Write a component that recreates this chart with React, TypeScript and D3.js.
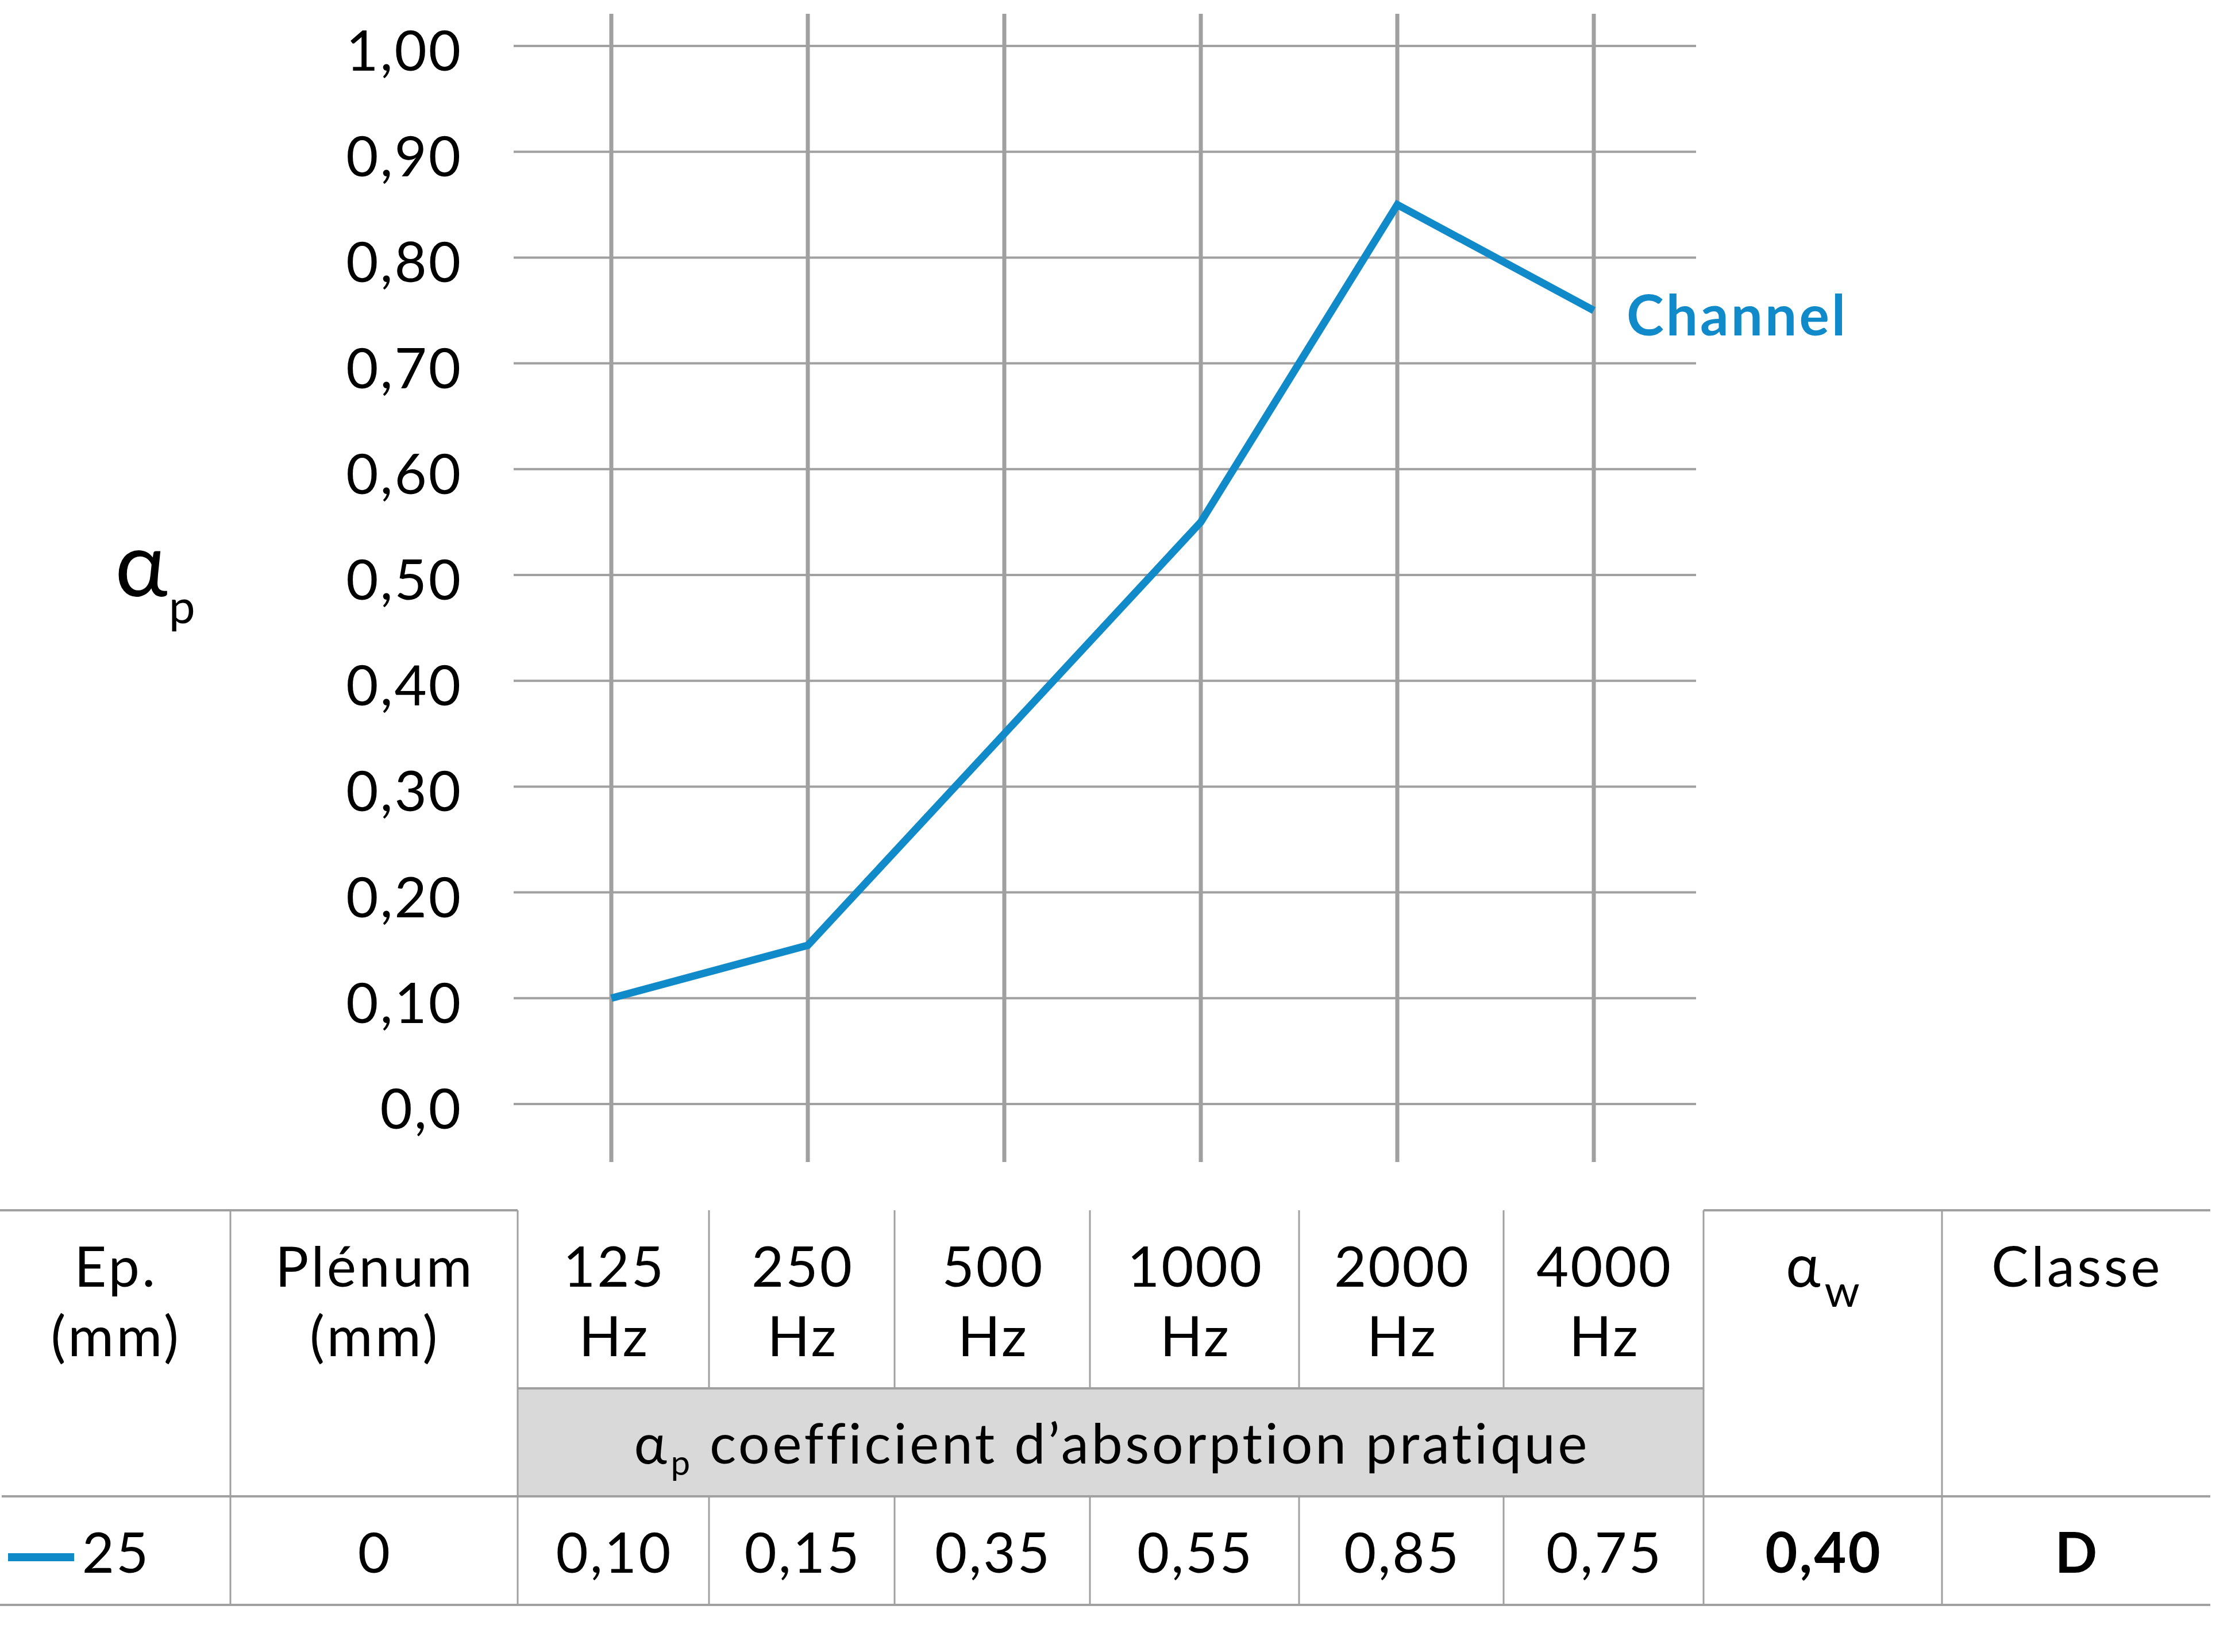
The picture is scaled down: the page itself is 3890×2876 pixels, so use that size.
import React from "react";
import * as d3 from "d3";

// ---------- data ----------
const FREQS = ["125", "250", "500", "1000", "2000", "4000"];
const FREQ_UNIT = "Hz";
const ALPHA_P = [0.1, 0.15, 0.35, 0.55, 0.85, 0.75];
const Y_TICKS = [0, 0.1, 0.2, 0.3, 0.4, 0.5, 0.6, 0.7, 0.8, 0.9, 1.0];
const Y_TICK_LABELS = ["0,0", "0,10", "0,20", "0,30", "0,40", "0,50", "0,60", "0,70", "0,80", "0,90", "1,00"];
const SERIES_NAME = "Channel";
const THICKNESS = "25";
const PLENUM = "0";
const ALPHA_W = "0,40";
const CLASSE = "D";
const HEADERS_LEFT = [["Ep.", "(mm)"], ["Plénum", "(mm)"]];
const BAND_TEXT = " coefficient d’absorption pratique";

// ---------- layout ----------
const W = 3890;
const H = 2876;
const FONT = "Lato, 'Open Sans', 'Noto Sans', sans-serif";
const BLUE = "#108ac8";
const GRID = "#a0a0a0";
const FS = 97;
const LS = 3;
const LS_TEXT = 4.5;

const X0 = 1064, X1 = 2774;
const Y0 = 1922, Y1 = 80;
const GRID_LEFT = 894, GRID_RIGHT = 2952;
const VGRID_TOP = 24, VGRID_BOTTOM = 2023;

// table
const COLS = [0, 401, 901, 1234, 1557, 1897, 2261, 2617, 2965, 3380, 3847];
const T_TOP = 2107, T_BAND = 2417, T_ROW = 2605, T_BOT = 2794;
const HDR1 = 2240, HDR2 = 2361, BAND_BASE = 2548, DATA_BASE = 2738;

const fmt = (v: number) => d3.format(".2f")(v).replace(".", ",");

export default function App() {
  const x = d3.scalePoint<string>().domain(FREQS).range([X0, X1]);
  const y = d3.scaleLinear().domain([0, 1]).range([Y0, Y1]);
  const line = d3
    .line<number>()
    .x((_, i) => x(FREQS[i]) as number)
    .y((d) => y(d));

  const colCenter = (i: number) => (COLS[i] + COLS[i + 1]) / 2 + LS / 2;
  const lastX = x(FREQS[FREQS.length - 1]) as number;
  const lastY = y(ALPHA_P[ALPHA_P.length - 1]);

  return (
    <svg
      width={W}
      height={H}
      viewBox={`0 0 ${W} ${H}`}
      style={{ position: "absolute", left: 0, top: 0, background: "#fff" }}
      fontFamily={FONT}
    >
      <rect x={0} y={0} width={W} height={H} fill="#fff" />

      {/* horizontal gridlines */}
      {Y_TICKS.map((t) => (
        <line key={"h" + t} x1={GRID_LEFT} x2={GRID_RIGHT} y1={y(t)} y2={y(t)} stroke={GRID} strokeWidth={4} />
      ))}
      {/* vertical gridlines */}
      {FREQS.map((f) => (
        <line key={"v" + f} x1={x(f)} x2={x(f)} y1={VGRID_TOP} y2={VGRID_BOTTOM} stroke={GRID} strokeWidth={7} />
      ))}

      {/* y tick labels */}
      {Y_TICKS.map((t, i) => (
        <text key={"yl" + t} x={805} y={y(t) + 43} textAnchor="end" fontSize={FS} letterSpacing={LS} fill="#000">
          {Y_TICK_LABELS[i]}
        </text>
      ))}

      {/* y axis title */}
      <text x={200} y={1038} fontSize={155} fill="#000">
        α
        <tspan fontSize={82} dx={2} dy={47}>p</tspan>
      </text>

      {/* series line */}
      <path d={line(ALPHA_P) || ""} fill="none" stroke={BLUE} strokeWidth={13} strokeLinejoin="miter" />
      <text x={lastX + 57} y={lastY + 43} fontSize={98} fontWeight={700} letterSpacing={4} fill={BLUE}>
        {SERIES_NAME}
      </text>

      {/* ---------- table ---------- */}
      <rect x={COLS[2]} y={T_BAND} width={COLS[8] - COLS[2]} height={T_ROW - T_BAND} fill="#d9d9d9" />
      {/* horizontal table lines */}
      <line x1={COLS[0]} x2={COLS[2]} y1={T_TOP} y2={T_TOP} stroke={GRID} strokeWidth={4} />
      <line x1={COLS[8]} x2={COLS[10]} y1={T_TOP} y2={T_TOP} stroke={GRID} strokeWidth={4} />
      <line x1={COLS[2]} x2={COLS[8]} y1={T_BAND} y2={T_BAND} stroke={GRID} strokeWidth={4} />
      <line x1={3} x2={COLS[10]} y1={T_ROW} y2={T_ROW} stroke={GRID} strokeWidth={4} />
      <line x1={COLS[0]} x2={COLS[10]} y1={T_BOT} y2={T_BOT} stroke={GRID} strokeWidth={4} />
      {/* vertical table lines */}
      {[1, 2, 8, 9].map((i) => (
        <line key={"tv" + i} x1={COLS[i]} x2={COLS[i]} y1={T_TOP} y2={T_BOT} stroke={GRID} strokeWidth={3} />
      ))}
      {[3, 4, 5, 6, 7].map((i) => (
        <g key={"tf" + i}>
          <line x1={COLS[i]} x2={COLS[i]} y1={T_TOP} y2={T_BAND} stroke={GRID} strokeWidth={3} />
          <line x1={COLS[i]} x2={COLS[i]} y1={T_ROW} y2={T_BOT} stroke={GRID} strokeWidth={3} />
        </g>
      ))}

      <g fontSize={FS} letterSpacing={LS} fill="#000">
        {/* header texts */}
        {HEADERS_LEFT.map((h, i) => (
          <g key={"hl" + i} letterSpacing={LS_TEXT}>
            <text x={colCenter(i)} y={HDR1} textAnchor="middle">{h[0]}</text>
            <text x={colCenter(i)} y={HDR2} textAnchor="middle">{h[1]}</text>
          </g>
        ))}
        {FREQS.map((f, i) => (
          <g key={"hf" + f}>
            <text x={colCenter(i + 2)} y={HDR1} textAnchor="middle">{f}</text>
            <text x={colCenter(i + 2)} y={HDR2} textAnchor="middle">{FREQ_UNIT}</text>
          </g>
        ))}
        <text x={colCenter(8)} y={HDR1} textAnchor="middle" fontSize={102}>
          α<tspan fontSize={78} dx={4} dy={35}>w</tspan>
        </text>
        <text x={colCenter(9)} y={HDR1} textAnchor="middle" letterSpacing={LS_TEXT}>Classe</text>

        {/* band text */}
        <text x={(COLS[2] + COLS[8]) / 2 + LS_TEXT / 2} y={BAND_BASE} textAnchor="middle" letterSpacing={LS_TEXT}>
          α<tspan fontSize={60} dx={2} dy={20}>p</tspan>
          <tspan dy={-20}>{BAND_TEXT}</tspan>
        </text>

        {/* data row */}
        <text x={202} y={DATA_BASE} textAnchor="middle">{THICKNESS}</text>
        <text x={colCenter(1)} y={DATA_BASE} textAnchor="middle">{PLENUM}</text>
        {ALPHA_P.map((v, i) => (
          <text key={"dv" + i} x={colCenter(i + 2)} y={DATA_BASE} textAnchor="middle">
            {fmt(v)}
          </text>
        ))}
        <text x={colCenter(8)} y={DATA_BASE} textAnchor="middle" fontWeight={700}>{ALPHA_W}</text>
        <text x={colCenter(9)} y={DATA_BASE} textAnchor="middle" fontWeight={700}>{CLASSE}</text>
      </g>
      <line x1={14} x2={129} y1={2711} y2={2711} stroke={BLUE} strokeWidth={14} />
    </svg>
  );
}
